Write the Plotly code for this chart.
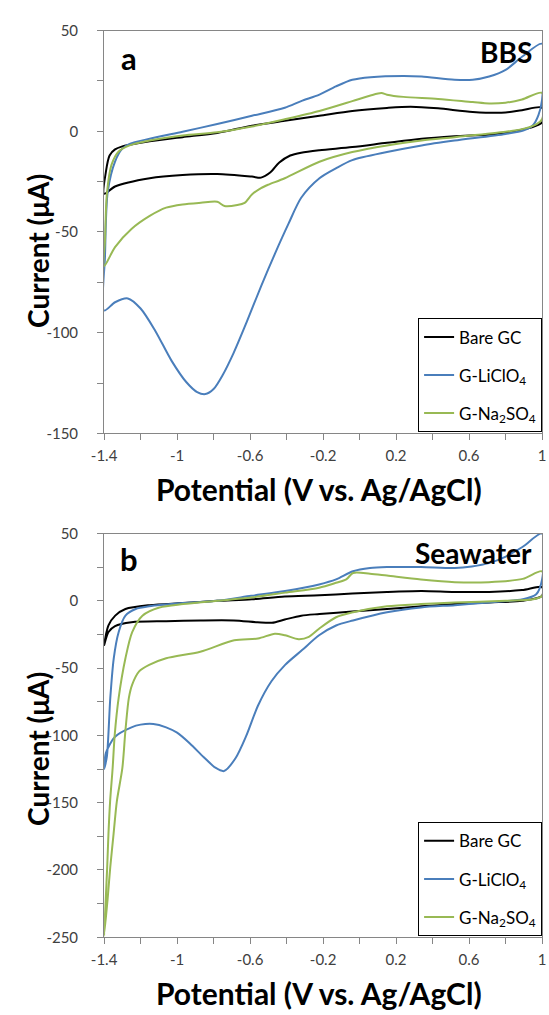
import plotly.graph_objects as go

# ---------------- data ----------------
# Panel a : BBS
v_bare_a = [-1.4, -1.39, -1.37, -1.34, -1.30, -1.26, -1.15, -0.97, -0.78, -0.59, -0.41, -0.22, -0.04, 0.15, 0.28, 0.43, 0.62, 0.80, 0.89, 1.0,
            1.0, 0.80, 0.52, 0.34, 0.15, -0.04, -0.22, -0.32, -0.38, -0.44, -0.49, -0.54, -0.59, -0.78, -0.97, -1.15, -1.34, -1.4]
i_bare_a = [-31, -20, -12, -9, -7.5, -6.7, -5.0, -2.9, -0.8, 2.8, 5.2, 7.7, 10.1, 11.6, 12.2, 11.4, 9.6, 9.3, 10.5, 11.7,
            4.4, -0.8, -2.4, -3.7, -5.7, -7.8, -9.4, -10.6, -12.0, -15.5, -20.5, -23.0, -22.5, -21.2, -21.7, -23.3, -27.4, -31]

v_li_a = [-1.4, -1.395, -1.38, -1.34, -1.30, -1.26, -1.15, -0.97, -0.78, -0.59, -0.41, -0.32, -0.22, -0.13, -0.04, 0.06, 0.24, 0.34, 0.52, 0.62, 0.71, 0.80, 0.89, 1.0,
          1.0, 0.98, 0.95, 0.90, 0.80, 0.52, 0.34, 0.15, -0.04, -0.13, -0.22, -0.32, -0.39, -0.46, -0.54, -0.62, -0.69, -0.75, -0.80, -0.845, -0.89, -0.95, -1.03, -1.12, -1.20, -1.27, -1.34, -1.4]
i_li_a = [-89, -62, -30, -15, -8.6, -6.2, -3.7, -0.2, 3.6, 7.7, 11.7, 15, 18.2, 22.3, 25.6, 26.9, 27.5, 27.2, 25.6, 25.6, 27.2, 30.5, 37, 43.5,
          15.8, 8, 3, 0.5, -1.3, -4.6, -7, -10.3, -14.3, -18.4, -23.3, -33, -46, -60, -77, -95, -110, -121, -128, -130.5, -129.5, -124.5, -114, -99, -88, -83, -84.9, -89]

v_na_a = [-1.4, -1.395, -1.385, -1.36, -1.32, -1.26, -1.15, -0.97, -0.78, -0.59, -0.41, -0.22, -0.04, 0.06, 0.12, 0.15, 0.24, 0.43, 0.62, 0.71, 0.80, 0.89, 1.0,
          1.0, 0.97, 0.89, 0.80, 0.52, 0.34, 0.15, -0.04, -0.22, -0.41, -0.50, -0.54, -0.59, -0.63, -0.67, -0.74, -0.78, -0.87, -0.97, -1.06, -1.15, -1.25, -1.34, -1.4]
i_na_a = [-67, -54, -31.4, -16.8, -10, -7, -4.6, -2.1, -0.5, 2.4, 6, 10.1, 15, 17.8, 19, 18.2, 17.1, 16.1, 14.5, 13.8, 14.2, 15.8, 19.1,
          6, 3.6, 1.1, -0.2, -2.9, -4.6, -7, -10.3, -15.1, -23.3, -26.5, -28.2, -31.4, -35.5, -36.6, -37.1, -35, -35.5, -36.3, -37.9, -42, -48.5, -57.5, -67]

# Panel b : Seawater
v_bare_b = [-1.4, -1.376, -1.339, -1.283, -1.15, -0.97, -0.78, -0.59, -0.41, -0.22, -0.04, 0.15, 0.34, 0.52, 0.71, 0.89, 1.0,
            1.0, 0.89, 0.71, 0.52, 0.34, 0.15, -0.04, -0.22, -0.32, -0.41, -0.48, -0.56, -0.69, -0.87, -1.06, -1.25, -1.34, -1.376, -1.4]
i_bare_b = [-32.9, -18.3, -11, -6.1, -3.2, -1.7, 0, 1.2, 3.2, 4.1, 5.4, 6.6, 7.3, 6.6, 6.6, 8, 10.2,
            3.7, 0, -1.2, -2.4, -4.1, -6.1, -8, -9.8, -11, -13.9, -16.3, -15.9, -14.6, -14.6, -15.1, -15.9, -18.8, -23.2, -32.9]

v_li_b = [-1.4, -1.385, -1.366, -1.347, -1.32, -1.283, -1.227, -1.153, -0.967, -0.78, -0.594, -0.408, -0.222, -0.129, -0.036, 0.057, 0.15, 0.336, 0.522, 0.615, 0.708, 0.801, 0.894, 1.0,
          1.0, 0.968, 0.894, 0.708, 0.522, 0.336, 0.15, -0.036, -0.129, -0.222, -0.315, -0.408, -0.483, -0.557, -0.62, -0.68, -0.743, -0.79, -0.855, -0.93, -1.0, -1.06, -1.13, -1.2, -1.25, -1.34, -1.39, -1.4]
i_li_b = [-125, -116, -72, -42.7, -23.2, -11, -6.1, -4.1, -1.7, 0, 3.7, 7.3, 12.2, 15.9, 22, 24.4, 25.1, 25.1, 24.4, 25.6, 28, 32.9, 40.2, 50,
          15.9, 4.9, 1.2, -1.2, -3.2, -4.9, -8.5, -14.6, -18.3, -25.6, -36.6, -47.6, -59.8, -78, -100, -117, -126.5, -124, -116, -106, -98, -94, -91.5, -92, -94, -101, -113, -125]

v_na_b = [-1.4, -1.391, -1.383, -1.376, -1.367, -1.353, -1.342, -1.32, -1.283, -1.246, -1.19, -1.097, -0.967, -0.78, -0.594, -0.408, -0.222, -0.129, -0.073, -0.036, 0.057, 0.15, 0.336, 0.522, 0.708, 0.894, 1.0,
          1.0, 0.95, 0.80, 0.52, 0.336, 0.15, -0.036, -0.129, -0.222, -0.278, -0.334, -0.408, -0.464, -0.557, -0.687, -0.873, -1.06, -1.153, -1.208, -1.246, -1.264, -1.283, -1.30, -1.33, -1.348, -1.366, -1.381, -1.4]
i_na_b = [-249, -222, -198, -173, -149, -124, -100, -72, -42.7, -23.2, -11, -4.9, -2.4, 0, 2.4, 6.1, 9.8, 13.4, 15.9, 20.7, 20.2, 18.8, 15.9, 13.9, 13.9, 16.3, 21.9,
          3.7, 1.2, 0, -1.2, -2.4, -4.1, -8.5, -12.2, -20.7, -26.8, -28.5, -25.6, -24.4, -28, -29.3, -37.8, -42.7, -47.6, -52.4, -62.2, -71.9, -96.3, -124.4, -148.8, -173.2, -197.6, -222, -249]

series_names = ["Bare GC", "G-LiClO<sub>4</sub>", "G-Na<sub>2</sub>SO<sub>4</sub>"]
panel_labels = ["a", "b"]
panel_titles = ["BBS", "Seawater"]
x_tick_vals = [-1.4, -1.0, -0.6, -0.2, 0.2, 0.6, 1.0]
x_tick_text = ["-1.4", "-1", "-0.6", "-0.2", "0.2", "0.6", "1"]
x_minor_vals = [-1.2, -0.8, -0.4, 0.0, 0.4, 0.8]
y_tick_vals_a = [50, 0, -50, -100, -150]
y_tick_vals_b = [50, 0, -50, -100, -150, -200, -250]

# ---------------- styling ----------------
W, H = 549, 1015
COLORS = ["#000000", "#4A7EBB", "#98B954"]
FONT = "Lato"
AXC = "#868686"
TXT = "#404040"

def px_x(px):
    return px / W

def px_y(py):
    return 1 - py / H

fig = go.Figure()

panels = [
    dict(xa="x", ya="y", legend="legend",
         data=[(v_bare_a, i_bare_a), (v_li_a, i_li_a), (v_na_a, i_na_a)]),
    dict(xa="x2", ya="y2", legend="legend2",
         data=[(v_bare_b, i_bare_b), (v_li_b, i_li_b), (v_na_b, i_na_b)]),
]

for p in panels:
    for k, (vv, ii) in enumerate(p["data"]):
        fig.add_trace(go.Scatter(
            x=vv, y=ii, mode="lines", name=series_names[k],
            line=dict(color=COLORS[k], width=2, shape="spline", smoothing=0.8),
            xaxis=p["xa"], yaxis=p["ya"], legend=p["legend"],
            legendgroup=p["legend"] + str(k),
        ))

x_dom = [px_x(94), px_x(546)]
top_dom = [px_y(431), px_y(21)]
bot_dom = [px_y(944), px_y(533)]

def xaxis_cfg(anchor):
    return dict(domain=x_dom, range=[-1.4, 1.0], anchor=anchor,
                showline=True, linecolor=AXC, linewidth=1, mirror=True,
                showgrid=False, zeroline=False,
                ticks="outside", ticklen=6, tickcolor=AXC, tickwidth=1,
                tickmode="array", tickvals=x_tick_vals, ticktext=x_tick_text,
                ticklabelstandoff=3, ticklabeloverflow="allow",
                minor=dict(tickmode="array", tickvals=x_minor_vals, ticks="outside",
                           ticklen=6, tickcolor=AXC, showgrid=False),
                tickfont=dict(family=FONT, size=15, color=TXT))

def yaxis_cfg(anchor, dom, rng, vals):
    minors = [v - 25 for v in vals[:-1]]
    return dict(domain=dom, range=rng, anchor=anchor,
                showline=True, linecolor=AXC, linewidth=1, mirror=True,
                showgrid=False, zeroline=False,
                ticks="outside", ticklen=6, tickcolor=AXC, tickwidth=1,
                tickmode="array", tickvals=vals, ticktext=[str(v) for v in vals],
                ticklabelstandoff=16, ticklabeloverflow="allow",
                minor=dict(tickmode="array", tickvals=minors, ticks="outside",
                           ticklen=6, tickcolor=AXC, showgrid=False),
                tickfont=dict(family=FONT, size=15, color=TXT))

legend_common = dict(
    xanchor="right", yanchor="bottom", x=px_x(546),
    bgcolor="white", bordercolor="#000000", borderwidth=1,
    font=dict(family=FONT, size=17, color="#000000"),
    tracegroupgap=13, itemwidth=30, traceorder="grouped",
)

fig.update_layout(
    width=W, height=H,
    margin=dict(l=0, r=0, t=0, b=0),
    paper_bgcolor="white", plot_bgcolor="white",
    xaxis=xaxis_cfg("y"),
    yaxis=yaxis_cfg("x", top_dom, [-150, 50], y_tick_vals_a),
    xaxis2=xaxis_cfg("y2"),
    yaxis2=yaxis_cfg("x2", bot_dom, [-250, 50], y_tick_vals_b),
    legend=dict(y=px_y(430), **legend_common),
    legend2=dict(y=px_y(943), **legend_common),
    showlegend=True,
)

ann = []
for lab, ttl, ytop, ybot_title, ycur in [
    (panel_labels[0], panel_titles[0], 49, 488, 245),
    (panel_labels[1], panel_titles[1], 559, 1001, 752),
]:
    ann.append(dict(text="<b>%s</b>" % lab, x=px_x(120), y=px_y(ytop), xref="paper", yref="paper",
                    showarrow=False, xanchor="center", yanchor="middle",
                    font=dict(family=FONT, size=31, color="#000000")))
    ann.append(dict(text="<b>%s</b>" % ttl, x=px_x(538), y=px_y(ytop - 6), xref="paper", yref="paper",
                    showarrow=False, xanchor="right", yanchor="middle",
                    font=dict(family=FONT, size=28, color="#000000")))
    ann.append(dict(text="<b>Potential (V vs. Ag/AgCl)</b>", x=px_x(316), y=px_y(ybot_title),
                    xref="paper", yref="paper", showarrow=False, xanchor="center", yanchor="middle",
                    font=dict(family=FONT, size=30, color="#000000")))
    ann.append(dict(text="<b>Current (μA)</b>", x=px_x(25), y=px_y(ycur),
                    xref="paper", yref="paper", showarrow=False, xanchor="center", yanchor="middle",
                    textangle=-90, font=dict(family=FONT, size=28, color="#000000")))
fig.update_layout(annotations=ann)

fig.write_html("out.html")
